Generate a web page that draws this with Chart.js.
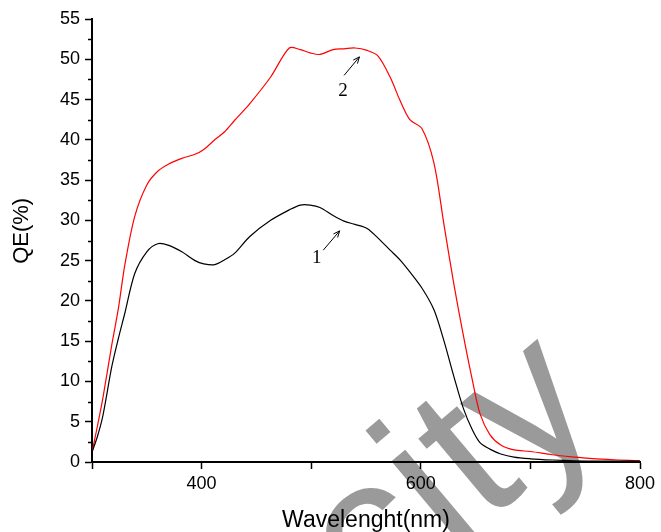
<!DOCTYPE html>
<html>
<head>
<meta charset="utf-8">
<script src="https://cdn.jsdelivr.net/npm/chart.js@4.4.1/dist/chart.umd.min.js"></script>
<style>
    html, body { margin: 0; padding: 0; background: #fff; }
    #wrap { width: 661px; height: 532px; }
</style>
</head>
<body>
<div id="wrap"><canvas id="qeChart" width="661" height="532"></canvas></div>
<script>
// wavelength (nm)
const wavelength = [300, 305, 310, 318, 324, 330, 339, 350, 360, 370, 382, 394, 402, 412, 421, 430, 444, 463, 480, 490,
    499, 508, 520, 530, 540, 551, 561, 572, 581, 590, 601, 612, 621, 630, 639, 647, 654, 663, 673, 685,
    700, 720, 740, 760, 780, 800];

// curve 1 (black)
const qe1 = [1.2, 3.2, 5.8, 11.8, 15.3, 18.5, 23.4, 26.1, 27.1, 26.9, 26.1, 25.0, 24.6, 24.5, 25.1, 25.9, 28.0, 30.0, 31.3, 31.9,
    31.9, 31.6, 30.6, 29.9, 29.5, 29.0, 27.8, 26.3, 25.1, 23.6, 21.6, 18.9, 15.1, 10.7, 6.6, 4.0, 2.4, 1.6, 1.0, 0.6,
    0.4, 0.25, 0.15, 0.1, 0.1, 0.1];

// curve 2 (red)
const qe2 = [1.2, 4.5, 8.0, 14.5, 19.0, 24.5, 30.5, 34.4, 36.1, 37.0, 37.7, 38.2, 38.8, 40.0, 41.0, 42.4, 44.5, 47.8, 51.4, 51.2,
    50.8, 50.6, 51.2, 51.3, 51.4, 51.1, 50.4, 47.8, 44.9, 42.5, 41.4, 37.1, 29.6, 22.2, 15.6, 10.2, 6.0, 3.4, 2.1, 1.5,
    1.3, 0.9, 0.6, 0.4, 0.25, 0.15];

const xTicks = [300, 400, 500, 600, 700, 800];
const xLabels = [400, 600, 800];
const yTicks = [0, 5, 10, 15, 20, 25, 30, 35, 40, 45, 50, 55];
const yMinor = [2.5, 7.5, 12.5, 17.5, 22.5, 27.5, 32.5, 37.5, 42.5, 47.5, 52.5];

// curve labels: [text, label x, label y, arrow from x, y, arrow to x, y] in data units
const curveNotes = [
    ['1', 505, 25.3, 511, 26.3, 526, 28.7],
    ['2', 529, 46.1, 530, 48.0, 544, 50.3]
];

const FONT = '"Liberation Sans", Arial, sans-serif';
const toPoints = ys => wavelength.map((w, i) => ({ x: w, y: ys[i] }));

// shorter tick marks between the labelled y ticks, plus the y title
const axisExtrasPlugin = {
    id: 'axisExtras',
    afterDraw(chart) {
        const ctx = chart.ctx;
        const y = chart.scales.y;
        const left = chart.chartArea.left;
        ctx.save();
        ctx.strokeStyle = '#000';
        ctx.lineWidth = 1.5;
        yMinor.forEach(v => {
            const py = Math.round(y.getPixelForValue(v)) + 0.5;
            ctx.beginPath();
            ctx.moveTo(left - 4, py);
            ctx.lineTo(left, py);
            ctx.stroke();
        });
        // y title sits a little above the middle of the axis
        ctx.translate(22, y.getPixelForValue(28.7));
        ctx.rotate(-Math.PI / 2);
        ctx.fillStyle = '#000';
        ctx.font = '22px ' + FONT;
        ctx.textAlign = 'center';
        ctx.textBaseline = 'middle';
        ctx.fillText('QE(%)', 0, 0);
        ctx.restore();
    }
};

const notesPlugin = {
    id: 'curveNotes',
    afterDatasetsDraw(chart) {
        const ctx = chart.ctx;
        const sx = chart.scales.x, sy = chart.scales.y;
        ctx.save();
        ctx.fillStyle = '#000';
        ctx.strokeStyle = '#000';
        ctx.lineWidth = 1;
        ctx.font = '19px "Liberation Serif", "Times New Roman", serif';
        ctx.textAlign = 'center';
        ctx.textBaseline = 'middle';
        curveNotes.forEach(n => {
            ctx.fillText(n[0], sx.getPixelForValue(n[1]), sy.getPixelForValue(n[2]));
            const x0 = sx.getPixelForValue(n[3]), y0 = sy.getPixelForValue(n[4]);
            const x1 = sx.getPixelForValue(n[5]), y1 = sy.getPixelForValue(n[6]);
            const a = Math.atan2(y1 - y0, x1 - x0);
            ctx.beginPath();
            ctx.moveTo(x0, y0);
            ctx.lineTo(x1, y1);
            ctx.moveTo(x1 - 7 * Math.cos(a - 0.4), y1 - 7 * Math.sin(a - 0.4));
            ctx.lineTo(x1, y1);
            ctx.lineTo(x1 - 7 * Math.cos(a + 0.4), y1 - 7 * Math.sin(a + 0.4));
            ctx.stroke();
        });
        ctx.restore();
    }
};

// grey "city" stamp behind the plot
const watermarkPlugin = {
    id: 'watermark',
    beforeDraw(chart) {
        const ctx = chart.ctx;
        ctx.save();
        ctx.translate(372, 619);
        ctx.rotate(-40 * Math.PI / 180);
        ctx.font = '205px ' + FONT;
        ctx.textAlign = 'left';
        ctx.textBaseline = 'alphabetic';
        ctx.fillStyle = '#9a9a9a';
        ctx.fillText('city', 0, 0);
        ctx.restore();
    }
};

new Chart(document.getElementById('qeChart'), {
    type: 'line',
    data: {
        datasets: [{
            label: '1',
            data: toPoints(qe1),
            borderColor: '#000',
            borderWidth: 1.2,
            pointRadius: 0,
            tension: 0.3
        }, {
            label: '2',
            data: toPoints(qe2),
            borderColor: '#ff0000',
            borderWidth: 1.2,
            pointRadius: 0,
            tension: 0.3
        }]
    },
    options: {
        responsive: false,
        animation: false,
        layout: { padding: { top: 19, right: 21, left: 0, bottom: 0 } },
        plugins: {
            legend: { display: false },
            tooltip: { enabled: false }
        },
        scales: {
            x: {
                type: 'linear',
                min: 300,
                max: 800,
                afterFit(scale) { scale.height = 70; },
                afterBuildTicks(scale) { scale.ticks = xTicks.map(v => ({ value: v })); },
                grid: { drawOnChartArea: false, drawTicks: true, tickLength: 7, tickColor: '#000', tickWidth: 1.5 },
                border: { display: true, color: '#000', width: 2 },
                ticks: {
                    color: '#000',
                    padding: 4,
                    maxRotation: 0,
                    autoSkip: false,
                    font: { family: FONT, size: 18 },
                    callback: v => xLabels.includes(v) ? String(v) : ''
                },
                title: {
                    display: true,
                    text: 'Wavelenght(nm)',
                    color: '#000',
                    padding: 0,
                    font: { family: FONT, size: 23, lineHeight: 1 }
                }
            },
            y: {
                min: 0,
                max: 55,
                afterFit(scale) { scale.width = 92; },
                afterBuildTicks(scale) { scale.ticks = yTicks.map(v => ({ value: v })); },
                grid: { drawOnChartArea: false, drawTicks: true, tickLength: 7, tickColor: '#000', tickWidth: 1.5 },
                border: { display: true, color: '#000', width: 2 },
                ticks: {
                    color: '#000',
                    padding: 5,
                    autoSkip: false,
                    font: { family: FONT, size: 18 }
                }
            }
        }
    },
    plugins: [watermarkPlugin, axisExtrasPlugin, notesPlugin]
});
</script>
</body>
</html>
